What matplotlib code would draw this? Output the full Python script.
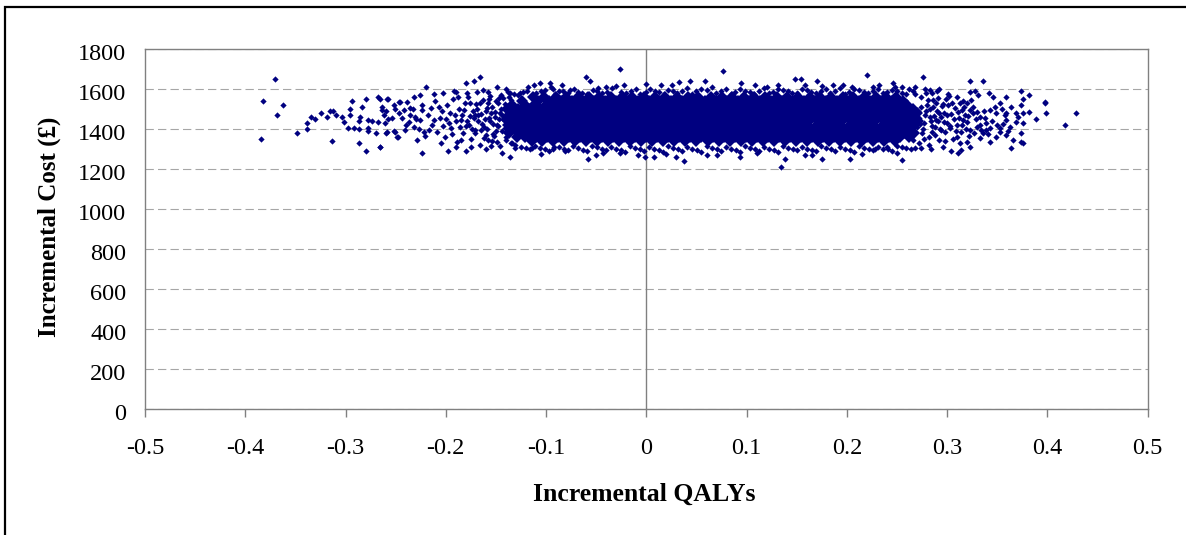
import matplotlib.pyplot as plt
from matplotlib.patches import Rectangle
from matplotlib.transforms import ScaledTranslation

plt.rcParams['font.family'] = ['Liberation Serif', 'DejaVu Serif']
plt.rcParams['lines.scale_dashes'] = False

# axis ticks
x_ticks = [-0.5, -0.4, -0.3, -0.2, -0.1, 0, 0.1, 0.2, 0.3, 0.4, 0.5]
x_tick_labels = ['-0.5', '-0.4', '-0.3', '-0.2', '-0.1', '0', '0.1', '0.2', '0.3', '0.4', '0.5']
y_ticks = [0, 200, 400, 600, 800, 1000, 1200, 1400, 1600, 1800]

# sparse points read one by one (incremental QALYs, incremental cost)
left_tail = [
    (-0.370, 1650), (-0.382, 1540), (-0.362, 1520), (-0.368, 1470), (-0.384, 1350),
    (-0.348, 1380), (-0.338, 1398), (-0.338, 1430), (-0.334, 1458), (-0.330, 1448),
    (-0.324, 1480), (-0.318, 1460), (-0.315, 1492), (-0.313, 1492), (-0.310, 1470),
    (-0.314, 1340), (-0.304, 1458), (-0.302, 1433), (-0.296, 1470), (-0.296, 1498),
    (-0.294, 1540), (-0.298, 1407), (-0.292, 1403), (-0.287, 1332), (-0.287, 1442),
    (-0.286, 1458), (-0.284, 1512), (-0.287, 1398), (-0.280, 1550), (-0.280, 1292),
    (-0.278, 1445), (-0.278, 1403), (-0.278, 1392), (-0.274, 1440), (-0.270, 1382),
    (-0.268, 1562), (-0.266, 1550), (-0.266, 1312), (-0.268, 1437), (-0.264, 1512),
    (-0.262, 1470), (-0.260, 1492), (-0.258, 1550), (-0.260, 1382), (-0.258, 1448),
    (-0.252, 1392), (-0.252, 1520), (-0.251, 1498), (-0.247, 1537), (-0.248, 1362),
    (-0.259, 1548), (-0.264, 1495), (-0.246, 1537), (-0.239, 1537), (-0.232, 1562),
    (-0.226, 1570), (-0.261, 1428), (-0.254, 1453), (-0.247, 1478), (-0.242, 1495),
    (-0.236, 1503), (-0.231, 1462), (-0.251, 1387), (-0.259, 1387), (-0.241, 1395),
    (-0.232, 1412), (-0.229, 1345), (-0.224, 1282), (-0.266, 1308), (-0.249, 1362),
    (-0.237, 1437), (-0.226, 1445), (-0.224, 1495), (-0.222, 1387), (-0.220, 1612),
    (-0.230, 1450), (-0.227, 1400), (-0.224, 1520), (-0.221, 1365), (-0.240, 1420),
    (-0.236, 1470), (-0.244, 1455), (-0.233, 1500),
]

left_shoulder = [
    (-0.218, 1470), (-0.215, 1505), (-0.214, 1420), (-0.211, 1540), (-0.209, 1385),
    (-0.206, 1455), (-0.204, 1490), (-0.201, 1360), (-0.199, 1520), (-0.197, 1430),
    (-0.195, 1405), (-0.193, 1550), (-0.191, 1470), (-0.189, 1335), (-0.187, 1500),
    (-0.185, 1445), (-0.183, 1380), (-0.181, 1530), (-0.180, 1415), (-0.178, 1560),
    (-0.176, 1465), (-0.175, 1350), (-0.173, 1490), (-0.171, 1395), (-0.170, 1525),
    (-0.168, 1440), (-0.166, 1320), (-0.165, 1475), (-0.163, 1545), (-0.162, 1410),
    (-0.160, 1370), (-0.159, 1505), (-0.157, 1455), (-0.156, 1565), (-0.154, 1340),
    (-0.153, 1425), (-0.151, 1485), (-0.150, 1390), (-0.148, 1530), (-0.147, 1450),
    (-0.146, 1315), (-0.144, 1470), (-0.143, 1555), (-0.141, 1405), (-0.140, 1360),
    (-0.139, 1510), (-0.137, 1435), (-0.136, 1580), (-0.134, 1330), (-0.133, 1490),
    (-0.165, 1395), (-0.161, 1450), (-0.158, 1530), (-0.155, 1480), (-0.152, 1365),
    (-0.149, 1420), (-0.145, 1500), (-0.142, 1445), (-0.138, 1385), (-0.135, 1545),
    (-0.132, 1410), (-0.158, 1345), (-0.147, 1555), (-0.169, 1500), (-0.172, 1455),
    (-0.177, 1420), (-0.184, 1470), (-0.190, 1440), (-0.196, 1480), (-0.203, 1415),
    (-0.171, 1380), (-0.168, 1470), (-0.166, 1530), (-0.164, 1425), (-0.162, 1355),
    (-0.160, 1490), (-0.159, 1400), (-0.157, 1550), (-0.156, 1440), (-0.154, 1510),
    (-0.153, 1375), (-0.151, 1460), (-0.150, 1540), (-0.149, 1335), (-0.148, 1415),
    (-0.146, 1480), (-0.145, 1570), (-0.144, 1390), (-0.143, 1450), (-0.141, 1525),
    (-0.140, 1345), (-0.139, 1425), (-0.138, 1470), (-0.137, 1560), (-0.136, 1400),
    (-0.135, 1330), (-0.134, 1505), (-0.133, 1455), (-0.132, 1575), (-0.131, 1320),
    (-0.186, 1410), (-0.182, 1495), (-0.179, 1440), (-0.176, 1530), (-0.174, 1400),
    (-0.171, 1470), (-0.188, 1560), (-0.194, 1375), (-0.200, 1450), (-0.207, 1510),
    (-0.212, 1445), (-0.217, 1395), (-0.163, 1595), (-0.155, 1315), (-0.175, 1310),
    (-0.185, 1345), (-0.205, 1330), (-0.192, 1590), (-0.212, 1575), (-0.158, 1585),
]

top_edge = [
    (-0.180, 1632), (-0.172, 1642), (-0.166, 1662), (-0.149, 1612), (-0.118, 1612),
    (-0.112, 1620), (-0.106, 1632), (-0.096, 1632), (-0.084, 1620), (-0.060, 1662),
    (-0.056, 1642), (-0.026, 1700), (-0.022, 1620), (-0.048, 1603), (-0.040, 1612),
    (-0.203, 1578), (-0.190, 1587), (-0.179, 1578), (-0.169, 1587), (-0.138, 1587),
    (-0.126, 1578), (-0.093, 1598), (-0.076, 1595), (-0.068, 1587),
    (0.000, 1625), (0.026, 1620), (0.033, 1637), (0.044, 1642), (0.058, 1642),
    (0.076, 1692), (0.094, 1632), (0.108, 1620), (0.131, 1620), (0.148, 1650),
    (0.154, 1650), (0.158, 1620), (0.170, 1642), (0.186, 1620), (0.196, 1620),
    (0.220, 1670), (0.226, 1612), (0.232, 1620), (0.246, 1632), (0.248, 1612),
    (-0.128, 1572), (-0.119, 1590), (-0.110, 1580), (-0.101, 1596), (-0.091, 1576),
    (-0.083, 1588), (-0.072, 1600), (-0.064, 1582), (-0.053, 1594), (-0.044, 1578),
    (-0.034, 1604), (-0.025, 1586), (-0.015, 1592), (-0.006, 1576), (0.004, 1600),
    (0.013, 1584), (0.022, 1596), (0.031, 1578), (0.041, 1606), (0.050, 1588),
    (0.060, 1594), (0.069, 1580), (0.079, 1602), (0.088, 1586), (0.098, 1592),
    (0.107, 1576), (0.117, 1604), (0.126, 1584), (0.136, 1596), (0.145, 1580),
    (0.155, 1600), (0.164, 1586), (0.174, 1592), (0.183, 1578), (0.193, 1604),
    (0.202, 1584), (0.212, 1594), (0.221, 1578), (0.231, 1598), (0.240, 1584),
    (0.250, 1590), (0.259, 1574), (0.266, 1592),
    (-0.095, 1612), (-0.030, 1615), (0.015, 1618), (0.065, 1612), (0.120, 1610),
    (0.175, 1615), (0.205, 1612), (0.255, 1608), (-0.140, 1600), (0.283, 1596),
    (-0.123, 1583), (-0.114, 1571), (-0.105, 1588), (-0.087, 1592), (-0.078, 1579),
    (-0.059, 1576), (-0.049, 1590), (-0.039, 1584), (-0.020, 1580), (-0.010, 1598),
    (0.000, 1584), (0.009, 1590), (0.018, 1574), (0.027, 1588), (0.036, 1592),
    (0.046, 1576), (0.055, 1600), (0.074, 1590), (0.084, 1576), (0.093, 1598),
    (0.103, 1586), (0.112, 1592), (0.122, 1578), (0.131, 1602), (0.141, 1588),
    (0.150, 1578), (0.160, 1594), (0.169, 1580), (0.179, 1600), (0.188, 1588),
    (0.198, 1576), (0.207, 1598), (0.217, 1586), (0.226, 1592), (0.236, 1580),
    (0.245, 1596), (0.255, 1582), (0.262, 1600),
]

bottom_edge = [
    (-0.198, 1292), (-0.190, 1308), (-0.180, 1292), (-0.160, 1298), (-0.144, 1282),
    (-0.136, 1262), (-0.131, 1303), (-0.114, 1303), (-0.093, 1298), (-0.081, 1292),
    (-0.058, 1248), (-0.043, 1278), (-0.026, 1282), (-0.008, 1270), (-0.001, 1262),
    (0.008, 1262), (0.030, 1262), (0.038, 1242), (0.070, 1270), (0.093, 1262),
    (0.134, 1212), (0.138, 1250), (0.158, 1270), (0.175, 1250), (0.203, 1250),
    (0.228, 1298), (0.240, 1308), (0.255, 1245), (0.274, 1303),
    (-0.125, 1312), (-0.116, 1298), (-0.106, 1306), (-0.097, 1290), (-0.087, 1310),
    (-0.078, 1296), (-0.068, 1304), (-0.059, 1288), (-0.049, 1308), (-0.040, 1294),
    (-0.030, 1302), (-0.021, 1286), (-0.011, 1306), (-0.002, 1292), (0.008, 1300),
    (0.017, 1284), (0.027, 1304), (0.036, 1290), (0.046, 1298), (0.055, 1286),
    (0.065, 1306), (0.074, 1292), (0.084, 1300), (0.093, 1284), (0.103, 1304),
    (0.112, 1290), (0.122, 1298), (0.131, 1286), (0.141, 1306), (0.150, 1294),
    (0.160, 1300), (0.169, 1288), (0.179, 1304), (0.188, 1292), (0.198, 1300),
    (0.207, 1286), (0.217, 1306), (0.226, 1294), (0.236, 1302), (0.245, 1290),
    (0.255, 1310), (0.264, 1300),
    (-0.105, 1275), (-0.050, 1272), (0.020, 1276), (0.060, 1270), (0.110, 1278),
    (0.165, 1272), (0.215, 1276), (0.250, 1280),
    (-0.120, 1305), (-0.111, 1316), (-0.101, 1300), (-0.092, 1312), (-0.082, 1298),
    (-0.073, 1314), (-0.063, 1296), (-0.054, 1316), (-0.044, 1300), (-0.035, 1312),
    (-0.025, 1296), (-0.016, 1316), (-0.006, 1298), (0.003, 1312), (0.013, 1294),
    (0.022, 1316), (0.032, 1300), (0.041, 1310), (0.051, 1294), (0.060, 1316),
    (0.070, 1298), (0.079, 1312), (0.089, 1296), (0.098, 1314), (0.108, 1300),
    (0.117, 1312), (0.127, 1294), (0.136, 1316), (0.146, 1300), (0.155, 1310),
    (0.165, 1294), (0.174, 1316), (0.184, 1300), (0.193, 1312), (0.203, 1294),
    (0.212, 1314), (0.222, 1300), (0.231, 1312), (0.241, 1298), (0.250, 1316),
    (0.259, 1305),
]

right_tail = [
    (0.276, 1662), (0.323, 1640), (0.336, 1640), (0.328, 1590), (0.342, 1578),
    (0.374, 1590), (0.382, 1570), (0.359, 1562), (0.353, 1528), (0.346, 1558),
    (0.398, 1537), (0.398, 1528), (0.399, 1482), (0.428, 1482), (0.418, 1420),
    (0.389, 1448), (0.382, 1487), (0.376, 1478), (0.369, 1482), (0.374, 1520),
    (0.376, 1548), (0.364, 1512), (0.358, 1470), (0.359, 1445), (0.369, 1437),
    (0.376, 1428), (0.363, 1412), (0.353, 1403), (0.374, 1382), (0.359, 1370),
    (0.353, 1387), (0.366, 1345), (0.374, 1337), (0.376, 1328), (0.364, 1303),
    (0.336, 1378), (0.339, 1395), (0.333, 1353), (0.323, 1312), (0.314, 1295),
    (0.311, 1278), (0.304, 1292), (0.323, 1587), (0.320, 1528), (0.331, 1570),
    (0.313, 1528), (0.310, 1562), (0.301, 1520), (0.292, 1598), (0.285, 1578),
    (0.268, 1612), (0.343, 1495), (0.349, 1478), (0.333, 1462), (0.326, 1478),
    (0.339, 1428), (0.330, 1412), (0.343, 1337), (0.349, 1362), (0.323, 1395),
    (0.316, 1445), (0.323, 1495), (0.315, 1495), (0.310, 1362), (0.303, 1403),
    (0.320, 1337), (0.356, 1425), (0.359, 1478),
    (0.272, 1330), (0.274, 1560), (0.276, 1400), (0.278, 1470), (0.280, 1520),
    (0.282, 1360), (0.284, 1440), (0.286, 1545), (0.288, 1410), (0.290, 1490),
    (0.292, 1345), (0.294, 1460), (0.296, 1525), (0.298, 1385), (0.300, 1430),
    (0.302, 1565), (0.304, 1475), (0.306, 1350), (0.308, 1505), (0.310, 1420),
    (0.312, 1455), (0.314, 1385), (0.316, 1540), (0.318, 1470), (0.320, 1435),
    (0.322, 1365), (0.326, 1510), (0.329, 1450), (0.333, 1420), (0.337, 1490),
    (0.341, 1375), (0.345, 1440), (0.350, 1420), (0.355, 1500), (0.361, 1390),
    (0.371, 1460), (0.271, 1490), (0.273, 1425), (0.277, 1350), (0.279, 1580),
    (0.283, 1500), (0.285, 1385), (0.287, 1465), (0.289, 1530), (0.291, 1440),
    (0.293, 1400), (0.297, 1480), (0.299, 1550),
    (0.266, 1345), (0.268, 1575), (0.270, 1410), (0.272, 1455), (0.274, 1510),
    (0.275, 1380), (0.277, 1430), (0.279, 1490), (0.281, 1545), (0.282, 1320),
    (0.283, 1460), (0.285, 1415), (0.286, 1510), (0.288, 1370), (0.289, 1445),
    (0.291, 1555), (0.292, 1480), (0.294, 1395), (0.295, 1515), (0.297, 1435),
    (0.298, 1340), (0.300, 1470), (0.301, 1575), (0.303, 1415), (0.305, 1530),
    (0.307, 1450), (0.309, 1390), (0.311, 1485), (0.313, 1330), (0.315, 1420),
    (0.317, 1510), (0.319, 1400), (0.321, 1465), (0.324, 1545), (0.327, 1380),
    (0.330, 1485), (0.334, 1395), (0.338, 1455), (0.343, 1405), (0.348, 1510),
    (0.268, 1305), (0.278, 1600), (0.284, 1300), (0.290, 1590), (0.296, 1310),
]

# solid core of the cloud: QALY positions estimated along each cost level
core_cost_levels = [1560, 1540, 1520, 1500, 1480, 1460, 1440, 1420, 1400, 1380, 1360, 1340]
core_qaly_rows = [
    [-0.113, -0.102, -0.090, -0.080, -0.068, -0.057, -0.047, -0.035, -0.024, -0.014, -0.002, 0.009,
     0.019, 0.031, 0.042, 0.052, 0.064, 0.075, 0.085, 0.097, 0.107, 0.118, 0.130, 0.140, 0.151,
     0.163, 0.173, 0.184, 0.196, 0.206, 0.217, 0.229, 0.239, 0.249],
    [-0.124, -0.108, -0.097, -0.085, -0.074, -0.063, -0.052, -0.041, -0.030, -0.019, -0.008, 0.003,
     0.014, 0.025, 0.036, 0.047, 0.058, 0.069, 0.080, 0.091, 0.102, 0.113, 0.124, 0.135, 0.146,
     0.157, 0.168, 0.179, 0.190, 0.201, 0.212, 0.223, 0.234, 0.245, 0.256],
    [-0.134, -0.121, -0.112, -0.100, -0.091, -0.079, -0.069, -0.057, -0.046, -0.036, -0.025, -0.013,
     -0.003, 0.009, 0.020, 0.030, 0.041, 0.053, 0.063, 0.074, 0.086, 0.096, 0.107, 0.119, 0.129,
     0.140, 0.152, 0.162, 0.173, 0.185, 0.195, 0.206, 0.218, 0.228, 0.239, 0.251, 0.260],
    [-0.139, -0.128, -0.116, -0.106, -0.095, -0.084, -0.073, -0.062, -0.051, -0.041, -0.030, -0.019,
     -0.008, 0.003, 0.014, 0.025, 0.036, 0.047, 0.058, 0.069, 0.080, 0.091, 0.102, 0.113, 0.124,
     0.135, 0.146, 0.157, 0.168, 0.179, 0.190, 0.201, 0.212, 0.223, 0.234, 0.245, 0.256, 0.266],
    [-0.133, -0.122, -0.111, -0.100, -0.089, -0.078, -0.067, -0.057, -0.046, -0.035, -0.024,
     -0.013, -0.002, 0.009, 0.020, 0.031, 0.042, 0.052, 0.063, 0.074, 0.085, 0.096, 0.107, 0.118,
     0.129, 0.140, 0.151, 0.162, 0.173, 0.184, 0.195, 0.206, 0.217, 0.228, 0.239, 0.250, 0.261,
     0.270],
    [-0.139, -0.127, -0.117, -0.105, -0.094, -0.084, -0.072, -0.061, -0.051, -0.040, -0.029,
     -0.018, -0.007, 0.004, 0.015, 0.026, 0.036, 0.047, 0.058, 0.069, 0.080, 0.091, 0.102, 0.112,
     0.123, 0.134, 0.145, 0.156, 0.167, 0.178, 0.189, 0.200, 0.211, 0.222, 0.233, 0.244, 0.255,
     0.266],
    [-0.133, -0.122, -0.111, -0.100, -0.089, -0.078, -0.067, -0.056, -0.045, -0.034,
     -0.023, -0.012, -0.001, 0.010, 0.021, 0.032, 0.043, 0.054, 0.064, 0.075, 0.086, 0.097, 0.108,
     0.119, 0.130, 0.141, 0.152, 0.162, 0.173, 0.184, 0.195, 0.206, 0.217, 0.228, 0.239, 0.250,
     0.261, 0.271],
    [-0.138, -0.128, -0.116, -0.106, -0.094, -0.083, -0.073, -0.061, -0.050, -0.040, -0.028,
     -0.017, -0.007, 0.005, 0.016, 0.026, 0.038, 0.049, 0.059, 0.071, 0.081, 0.092, 0.104, 0.114,
     0.125, 0.137, 0.147, 0.158, 0.170, 0.180, 0.191, 0.203, 0.213, 0.224, 0.236, 0.246, 0.257,
     0.267],
    [-0.133, -0.122, -0.111, -0.100, -0.089, -0.078, -0.067, -0.056, -0.045, -0.034, -0.023,
     -0.012, -0.001, 0.010, 0.021, 0.032, 0.043, 0.054, 0.065, 0.076, 0.087, 0.098, 0.109, 0.120,
     0.131, 0.142, 0.153, 0.164, 0.175, 0.186, 0.197, 0.208, 0.219, 0.230, 0.241, 0.252, 0.263],
    [-0.137, -0.127, -0.116, -0.105, -0.094, -0.083, -0.072, -0.061, -0.050, -0.039, -0.028, -0.017,
     -0.006, 0.005, 0.016, 0.027, 0.038, 0.049, 0.059, 0.070, 0.081, 0.092, 0.103, 0.114, 0.125,
     0.136, 0.147, 0.158, 0.169, 0.180, 0.191, 0.202, 0.213, 0.224, 0.235, 0.246, 0.257, 0.267],
    [-0.129, -0.121, -0.110, -0.099, -0.088, -0.077, -0.066, -0.055, -0.044, -0.033, -0.022, -0.011,
     0.000, 0.011, 0.022, 0.033, 0.044, 0.055, 0.066, 0.077, 0.088, 0.099, 0.110, 0.121, 0.132,
     0.143, 0.154, 0.165, 0.176, 0.187, 0.198, 0.209, 0.220, 0.231, 0.242, 0.253, 0.262],
    [-0.114, -0.104, -0.093, -0.082, -0.071, -0.060, -0.049, -0.038, -0.027, -0.016, -0.005, 0.006,
     0.017, 0.028, 0.039, 0.050, 0.061, 0.072, 0.083, 0.094, 0.105, 0.116, 0.127, 0.138, 0.149,
     0.160, 0.171, 0.182, 0.193, 0.204, 0.215, 0.226, 0.237, 0.248],
]

navy = '#000080'

fig = plt.figure(figsize=(11.86, 5.35), dpi=100)
ax = fig.add_axes([145 / 1186, 1 - 409 / 535, (1147.7 - 145) / 1186, (409 - 49) / 535])

# gridlines and the zero line sit under the points
ax.set_axisbelow(True)
ax.yaxis.grid(True, linestyle=(0, (6, 3)), color='#a6a6a6', linewidth=0.8)
ax.axvline(0, color='#808080', linewidth=1.0, zorder=1)

# core of the cloud
for c, row in zip(core_cost_levels, core_qaly_rows):
    ax.plot(row, [c] * len(row), linestyle='none', marker='D', markersize=6.6,
            markeredgewidth=0, color=navy, zorder=3)

# individual points
sparse = left_tail + left_shoulder + top_edge + bottom_edge + right_tail
ax.plot([p[0] for p in sparse], [p[1] for p in sparse], linestyle='none', marker='D',
        markersize=3.2, markeredgewidth=0, color=navy, zorder=4)

ax.set_xlim(-0.5, 0.5)
ax.set_ylim(0, 1800)
ax.set_xticks(x_ticks)
ax.set_xticklabels(x_tick_labels)
ax.set_yticks(y_ticks)

for side in ['left', 'right', 'top', 'bottom']:
    ax.spines[side].set_color('#808080')
    ax.spines[side].set_linewidth(1.0)

ax.tick_params(axis='x', direction='out', length=5.5, width=1.0, color='#808080',
               pad=15.5, labelsize=17.5)
ax.tick_params(axis='y', length=0, pad=13.5, labelsize=17.5)

# y labels sit a little below their gridlines
shift = ScaledTranslation(0, -3 / 100, fig.dpi_scale_trans)
for lbl in ax.get_yticklabels():
    lbl.set_transform(lbl.get_transform() + shift)

fig.text(644.5 / 1186, 1 - 501 / 535, 'Incremental QALYs', ha='center', va='baseline',
         fontsize=18.5, fontweight='bold')
fig.text(49 / 1186, 1 - 226.5 / 535, 'Incremental Cost (£)', ha='center', va='center',
         rotation=90, fontsize=18, fontweight='bold')

# chart border (only the left and top edges are inside the picture)
fig.add_artist(Rectangle((5 / 1186, -0.1), 1.2, 1.1 - 7 / 535, transform=fig.transFigure,
                         fill=False, edgecolor='black', linewidth=1.6, clip_on=False))

fig.savefig('out.png', dpi=100)
